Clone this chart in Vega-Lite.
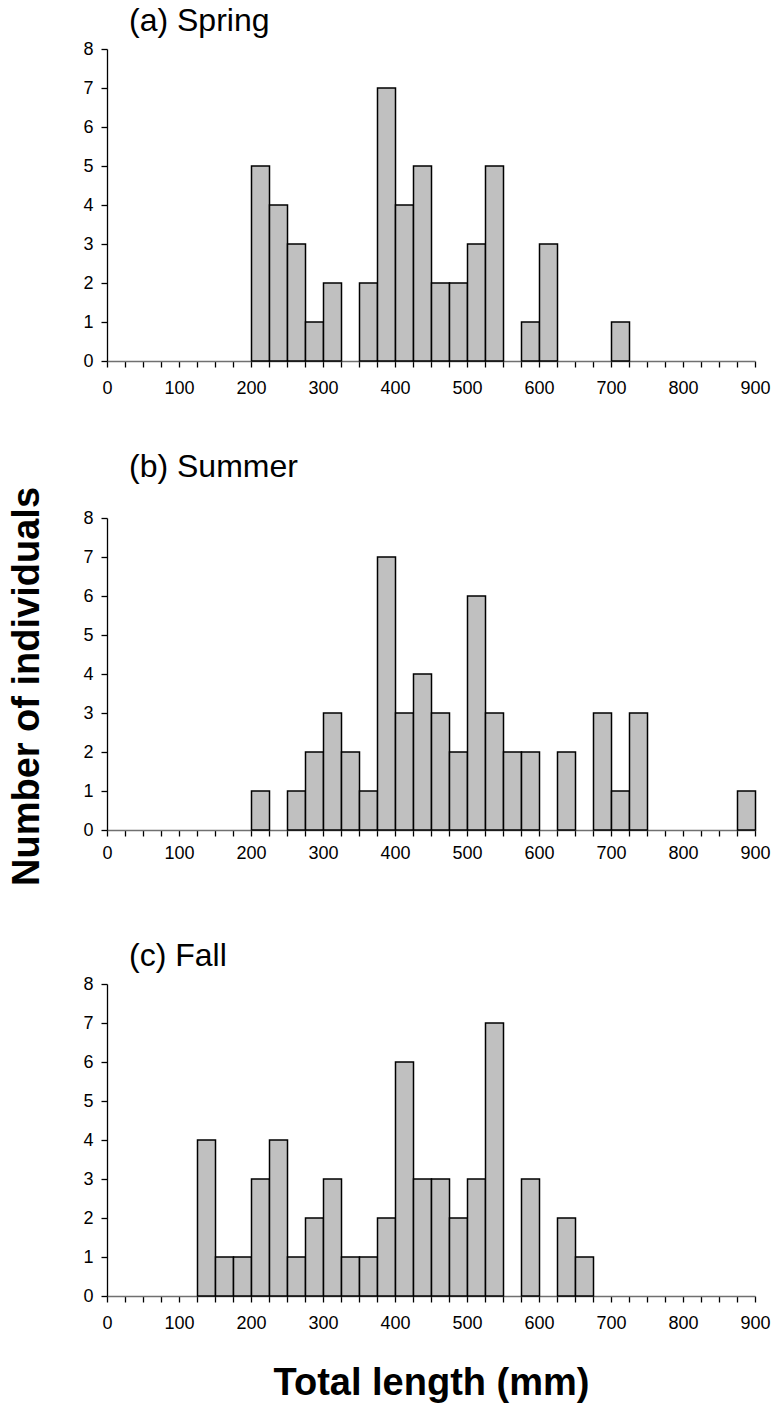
{
  "$schema": "https://vega.github.io/schema/vega-lite/v6.json",
  "padding": {"left": 8, "top": 5, "right": 10, "bottom": 5},
  "background": "white",
  "spacing": 54,
  "datasets": {
    "hist": [
      {"season": "Spring", "lo": 200, "hi": 225, "n": 5},
      {"season": "Spring", "lo": 225, "hi": 250, "n": 4},
      {"season": "Spring", "lo": 250, "hi": 275, "n": 3},
      {"season": "Spring", "lo": 275, "hi": 300, "n": 1},
      {"season": "Spring", "lo": 300, "hi": 325, "n": 2},
      {"season": "Spring", "lo": 350, "hi": 375, "n": 2},
      {"season": "Spring", "lo": 375, "hi": 400, "n": 7},
      {"season": "Spring", "lo": 400, "hi": 425, "n": 4},
      {"season": "Spring", "lo": 425, "hi": 450, "n": 5},
      {"season": "Spring", "lo": 450, "hi": 475, "n": 2},
      {"season": "Spring", "lo": 475, "hi": 500, "n": 2},
      {"season": "Spring", "lo": 500, "hi": 525, "n": 3},
      {"season": "Spring", "lo": 525, "hi": 550, "n": 5},
      {"season": "Spring", "lo": 575, "hi": 600, "n": 1},
      {"season": "Spring", "lo": 600, "hi": 625, "n": 3},
      {"season": "Spring", "lo": 700, "hi": 725, "n": 1},
      {"season": "Summer", "lo": 200, "hi": 225, "n": 1},
      {"season": "Summer", "lo": 250, "hi": 275, "n": 1},
      {"season": "Summer", "lo": 275, "hi": 300, "n": 2},
      {"season": "Summer", "lo": 300, "hi": 325, "n": 3},
      {"season": "Summer", "lo": 325, "hi": 350, "n": 2},
      {"season": "Summer", "lo": 350, "hi": 375, "n": 1},
      {"season": "Summer", "lo": 375, "hi": 400, "n": 7},
      {"season": "Summer", "lo": 400, "hi": 425, "n": 3},
      {"season": "Summer", "lo": 425, "hi": 450, "n": 4},
      {"season": "Summer", "lo": 450, "hi": 475, "n": 3},
      {"season": "Summer", "lo": 475, "hi": 500, "n": 2},
      {"season": "Summer", "lo": 500, "hi": 525, "n": 6},
      {"season": "Summer", "lo": 525, "hi": 550, "n": 3},
      {"season": "Summer", "lo": 550, "hi": 575, "n": 2},
      {"season": "Summer", "lo": 575, "hi": 600, "n": 2},
      {"season": "Summer", "lo": 625, "hi": 650, "n": 2},
      {"season": "Summer", "lo": 675, "hi": 700, "n": 3},
      {"season": "Summer", "lo": 700, "hi": 725, "n": 1},
      {"season": "Summer", "lo": 725, "hi": 750, "n": 3},
      {"season": "Summer", "lo": 875, "hi": 900, "n": 1},
      {"season": "Fall", "lo": 125, "hi": 150, "n": 4},
      {"season": "Fall", "lo": 150, "hi": 175, "n": 1},
      {"season": "Fall", "lo": 175, "hi": 200, "n": 1},
      {"season": "Fall", "lo": 200, "hi": 225, "n": 3},
      {"season": "Fall", "lo": 225, "hi": 250, "n": 4},
      {"season": "Fall", "lo": 250, "hi": 275, "n": 1},
      {"season": "Fall", "lo": 275, "hi": 300, "n": 2},
      {"season": "Fall", "lo": 300, "hi": 325, "n": 3},
      {"season": "Fall", "lo": 325, "hi": 350, "n": 1},
      {"season": "Fall", "lo": 350, "hi": 375, "n": 1},
      {"season": "Fall", "lo": 375, "hi": 400, "n": 2},
      {"season": "Fall", "lo": 400, "hi": 425, "n": 6},
      {"season": "Fall", "lo": 425, "hi": 450, "n": 3},
      {"season": "Fall", "lo": 450, "hi": 475, "n": 3},
      {"season": "Fall", "lo": 475, "hi": 500, "n": 2},
      {"season": "Fall", "lo": 500, "hi": 525, "n": 3},
      {"season": "Fall", "lo": 525, "hi": 550, "n": 7},
      {"season": "Fall", "lo": 575, "hi": 600, "n": 3},
      {"season": "Fall", "lo": 625, "hi": 650, "n": 2},
      {"season": "Fall", "lo": 650, "hi": 675, "n": 1}
    ]
  },
  "config": {
    "view": {"stroke": null},
    "font": "Liberation Sans",
    "title": {"anchor": "start", "frame": "group", "dx": 22, "fontSize": 32, "font": "Liberation Sans", "fontWeight": "normal", "color": "black", "offset": 2},
    "axis": {
      "labelFont": "Liberation Sans", "labelFontSize": 18, "labelColor": "black",
      "titleFont": "Liberation Sans", "titleFontSize": 38, "titleFontWeight": "bold", "titleColor": "black",
      "domainColor": "black", "domainWidth": 1.3, "tickColor": "black", "tickWidth": 1.3, "tickSize": 6, "grid": false
    }
  },
  "vconcat": [
    {
      "title": "(a) Spring",
      "width": 648, "height": 312,
      "data": {"name": "hist"},
      "transform": [{"filter": "datum.season === 'Spring'"}],
      "mark": {"type": "bar", "fill": "#c0c0c0", "stroke": "black", "strokeWidth": 1.5, "binSpacing": 0},
      "encoding": {
        "x": {"field": "lo", "type": "quantitative", "bin": {"binned": true}, "scale": {"domain": [0, 900], "nice": false},
              "axis": {"title": null, "values": [0,25,50,75,100,125,150,175,200,225,250,275,300,325,350,375,400,425,450,475,500,525,550,575,600,625,650,675,700,725,750,775,800,825,850,875,900],
                       "labelExpr": "datum.value % 100 === 0 ? datum.label : ''", "labelPadding": 12, "domainColor": "#707070", "labelFlush": false, "labelOverlap": false}},
        "x2": {"field": "hi"},
        "y": {"field": "n", "type": "quantitative", "scale": {"domain": [0, 8], "nice": false},
              "axis": {"title": null, "values": [0,1,2,3,4,5,6,7,8], "labelPadding": 8}}
      }
    },
    {
      "title": "(b) Summer",
      "width": 648, "height": 312,
      "data": {"name": "hist"},
      "transform": [{"filter": "datum.season === 'Summer'"}],
      "mark": {"type": "bar", "fill": "#c0c0c0", "stroke": "black", "strokeWidth": 1.5, "binSpacing": 0},
      "encoding": {
        "x": {"field": "lo", "type": "quantitative", "bin": {"binned": true}, "scale": {"domain": [0, 900], "nice": false},
              "axis": {"title": null, "values": [0,25,50,75,100,125,150,175,200,225,250,275,300,325,350,375,400,425,450,475,500,525,550,575,600,625,650,675,700,725,750,775,800,825,850,875,900],
                       "labelExpr": "datum.value % 100 === 0 ? datum.label : ''", "labelPadding": 8, "domainColor": "#707070", "labelFlush": false, "labelOverlap": false}},
        "x2": {"field": "hi"},
        "y": {"field": "n", "type": "quantitative", "scale": {"domain": [0, 8], "nice": false},
              "axis": {"title": "Number of individuals", "titleY": 168, "titlePadding": 36, "values": [0,1,2,3,4,5,6,7,8], "labelPadding": 8}}
      }
    },
    {
      "title": "(c) Fall",
      "width": 648, "height": 312,
      "data": {"name": "hist"},
      "transform": [{"filter": "datum.season === 'Fall'"}],
      "mark": {"type": "bar", "fill": "#c0c0c0", "stroke": "black", "strokeWidth": 1.5, "binSpacing": 0},
      "encoding": {
        "x": {"field": "lo", "type": "quantitative", "bin": {"binned": true}, "scale": {"domain": [0, 900], "nice": false},
              "axis": {"title": "Total length (mm)", "titlePadding": 32, "values": [0,25,50,75,100,125,150,175,200,225,250,275,300,325,350,375,400,425,450,475,500,525,550,575,600,625,650,675,700,725,750,775,800,825,850,875,900],
                       "labelExpr": "datum.value % 100 === 0 ? datum.label : ''", "labelPadding": 12, "domainColor": "#707070", "labelFlush": false, "labelOverlap": false}},
        "x2": {"field": "hi"},
        "y": {"field": "n", "type": "quantitative", "scale": {"domain": [0, 8], "nice": false},
              "axis": {"title": null, "values": [0,1,2,3,4,5,6,7,8], "labelPadding": 8}}
      }
    }
  ]
}
